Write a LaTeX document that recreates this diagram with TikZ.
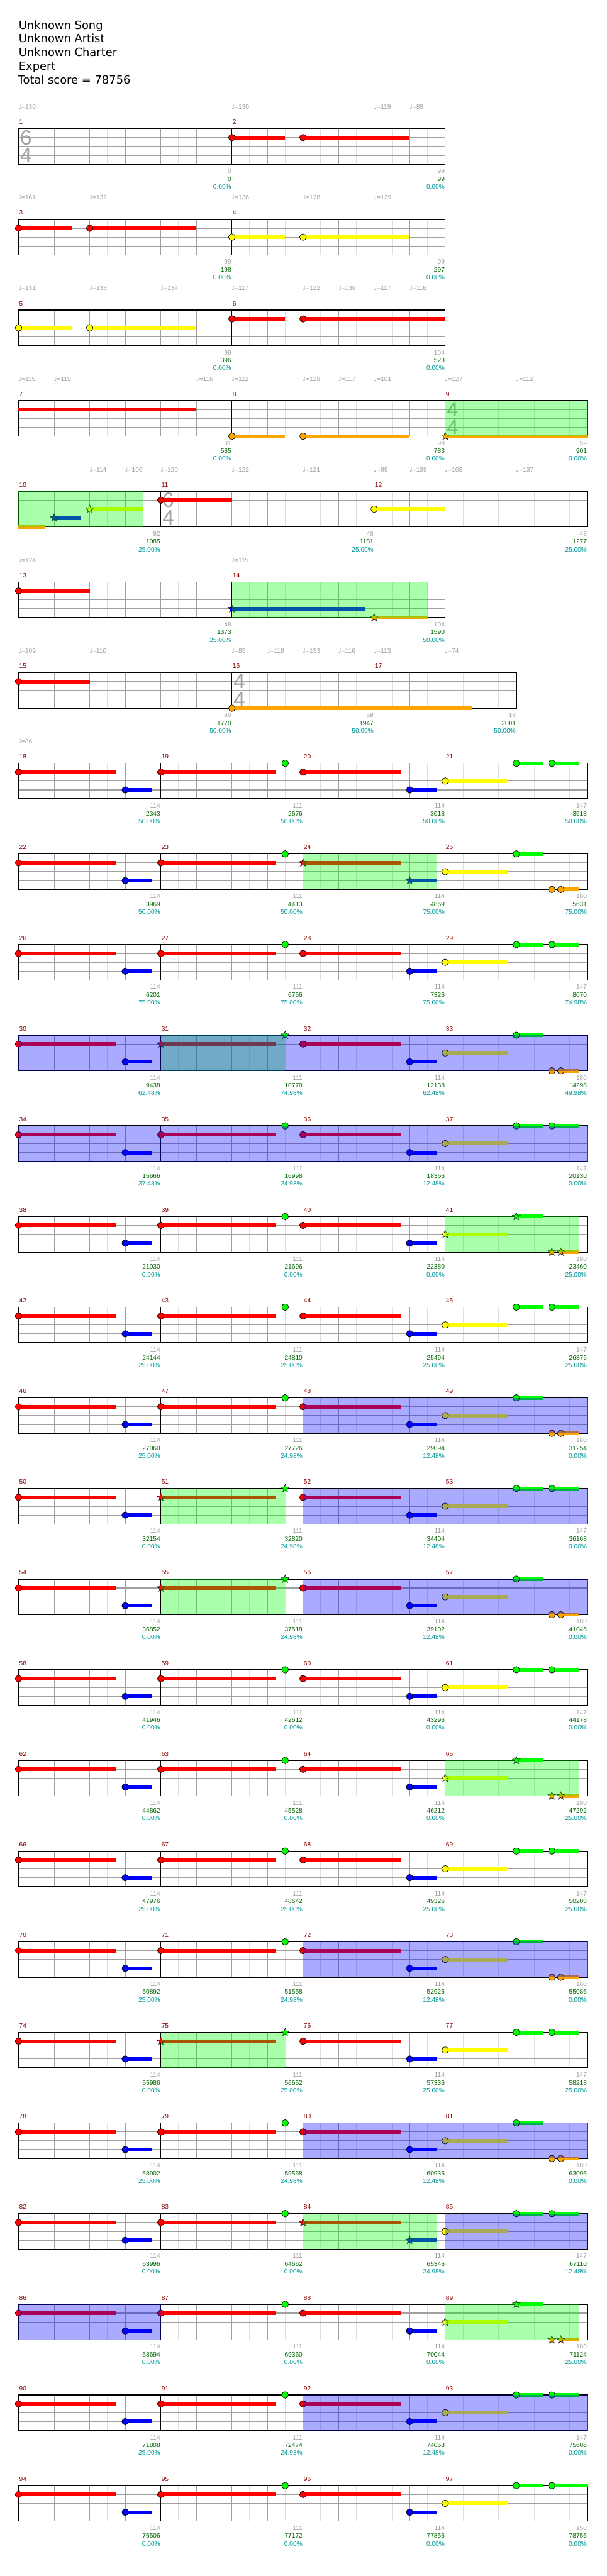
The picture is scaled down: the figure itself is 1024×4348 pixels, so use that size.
\documentclass[tikz,border=0pt]{standalone}
\usepackage{fontspec}
\setmainfont{DejaVu Sans}
\newfontfamily\labfont{Liberation Sans}
\newfontfamily\notefont{DejaVu Sans}
\usetikzlibrary{shapes.geometric}

\definecolor{notered}{RGB}{255,0,0}
\definecolor{noteyellow}{RGB}{255,255,0}
\definecolor{noteblue}{RGB}{0,0,255}
\definecolor{notegreen}{RGB}{0,255,0}
\definecolor{noteorange}{RGB}{255,165,0}
\definecolor{halfgrey}{RGB}{222,222,222}
\definecolor{linegrey}{RGB}{160,160,160}
\definecolor{labgrey}{RGB}{160,160,160}
\definecolor{labgreen}{RGB}{0,100,0}
\definecolor{labteal}{RGB}{0,150,150}
\definecolor{labred}{RGB}{140,0,0}

\newcount\notecount
% staff: number of beats, bar lines inside the row
\newcommand{\staff}[2]{%
  \foreach \h in {0.5,1.5,...,#1} \draw[halfline] (\h,0) -- (\h,60);
  \foreach \b in {1,...,#1} \draw[beatline] (\b,0) -- (\b,60);
  \foreach \l in {15,30,45} \draw[laneline] (0,\l) -- (#1,\l);
  \foreach \b in {#2} \draw[barline] (\b,0) -- (\b,60);
  \draw[frame] (0,0) rectangle (#1,60);}
\newcommand{\tsig}[3]{\node[tsig] at (#1+0.21,15) {#2};\node[tsig] at (#1+0.21,45) {#3};}
\newcommand{\tmp}[2]{\node[tempo] at (#1-0.01,-33) {{\notefont ♩}=#2};}
\newcommand{\mlab}[2]{\node[mlab] (bar#2) at (#1+0.015,-7.3) {#2};}
\newcommand{\scores}[5]{%
  \node[gscore] (pts#5) at (#1-0.008,75.4) {#2};
  \node[tscore] (tot#5) at (#1-0.008,88.7) {#3};
  \node[pscore] (pct#5) at (#1-0.008,101.7) {#4\%};}
% notes: colour, lane y, start, end of sustain
\newcommand{\sus}[4]{\fill[#1] (#3,#2-3.2) rectangle (#4,#2+3.2);}
\newcommand{\hd}[4]{\ifdim#4pt>#3pt \sus{#1}{#2}{#3}{#4}\fi
  \global\advance\notecount by 1
  \node[notehead,fill=#1] (note\the\notecount) at (#3,#2) {};}
\newcommand{\st}[4]{\ifdim#4pt>#3pt \sus{#1}{#2}{#3}{#4}\fi
  \global\advance\notecount by 1
  \node[starhead,fill=#1] (note\the\notecount) at (#3,#2) {};}
\newcommand{\nt}[4]{\pgfmathtruncatemacro\isstar{and(#3>=\ga,#3<=\gb)}%
  \ifnum\isstar=1 \st{#1}{#2}{#3}{#4}\else\hd{#1}{#2}{#3}{#4}\fi}
\newcommand{\spz}[2]{\fill[spfill] (#1,0) rectangle (#2,60);}
\newcommand{\solo}[2]{\fill[solofill] (#1,0) rectangle (#2,60);}

\begin{document}
\begin{tikzpicture}[x=0.5pt,y=-0.5pt,
  halfline/.style={draw=halfgrey,line width=0.5pt},
  beatline/.style={draw=linegrey,line width=0.5pt},
  laneline/.style={draw=linegrey,line width=0.6pt},
  barline/.style={draw=black,line width=0.5pt},
  frame/.style={draw=black,line width=0.75pt},
  soloend/.style={draw=notered,line width=0.6pt},
  notehead/.style={circle,draw=black,line width=0.35pt,inner sep=0,minimum size=5.6pt},
  starhead/.style={star,star points=5,star point ratio=2.3,draw=black,line width=0.3pt,inner sep=0,minimum size=7pt},
  spfill/.style={fill=notegreen,fill opacity=0.333},
  solofill/.style={fill=noteblue,fill opacity=0.333},
  tsig/.style={text=labgrey,font=\labfont\fontsize{17.5pt}{17.5pt}\selectfont,inner sep=0},
  tempo/.style={anchor=base west,inner sep=0,text=labgrey,font=\labfont\fontsize{5.4pt}{6pt}\selectfont},
  mlab/.style={anchor=base west,inner sep=0,text=labred,font=\labfont\fontsize{5.4pt}{6pt}\selectfont},
  gscore/.style={anchor=base east,inner sep=0,text=labgrey,font=\labfont\fontsize{5.4pt}{6pt}\selectfont},
  tscore/.style={gscore,text=labgreen},
  pscore/.style={gscore,text=labteal},
  title/.style={anchor=base west,inner sep=0,font=\fontsize{9.5pt}{11pt}\selectfont}]

\fill[white] (0,0) rectangle (1024,4348);
\useasboundingbox (0,0) rectangle (1024,4348);

\node[title] (song) at (31.3,49) {Unknown Song};
\node[title] (artist) at (31.3,72) {Unknown Artist};
\node[title] (charter) at (31.3,95) {Unknown Charter};
\node[title] (level) at (31.3,118.3) {Expert};
\node[title] (total) at (30,141.7) {Total score = 78756};

% row 0
\begin{scope}[shift={(31.3,217.3)},x=30pt]
  \staff{12}{6}
  \tsig{0}{6}{4}
  \hd{notered}{15}{6}{7.5} \hd{notered}{15}{8}{11}
  \tmp{0}{130} \tmp{6}{130} \tmp{10}{119} \tmp{11}{89}
  \mlab{0}{1} \mlab{6}{2}
  \scores{6}{0}{0}{0.00}{1} \scores{12}{99}{99}{0.00}{2}
\end{scope}

% row 1
\begin{scope}[shift={(31.3,370.3)},x=30pt]
  \staff{12}{6}
  \hd{notered}{15}{0}{1.5} \hd{notered}{15}{2}{5}
  \hd{noteyellow}{30}{6}{7.5} \hd{noteyellow}{30}{8}{11}
  \tmp{0}{161} \tmp{2}{132} \tmp{6}{136} \tmp{8}{128} \tmp{10}{129}
  \mlab{0}{3} \mlab{6}{4}
  \scores{6}{99}{198}{0.00}{3} \scores{12}{99}{297}{0.00}{4}
\end{scope}

% row 2
\begin{scope}[shift={(31.3,523.3)},x=30pt]
  \staff{12}{6}
  \hd{noteyellow}{30}{0}{1.5} \hd{noteyellow}{30}{2}{5}
  \hd{notered}{15}{6}{7.5} \hd{notered}{15}{8}{12}
  \tmp{0}{131} \tmp{2}{138} \tmp{4}{134} \tmp{6}{117}
  \tmp{8}{122} \tmp{9}{130} \tmp{10}{117} \tmp{11}{116}
  \mlab{0}{5} \mlab{6}{6}
  \scores{6}{99}{396}{0.00}{5} \scores{12}{104}{523}{0.00}{6}
\end{scope}

% row 3
\begin{scope}[shift={(31.3,676.3)},x=30pt]
  \staff{16}{6,12}
  \tsig{12}{4}{4}
  \sus{notered}{15}{0}{5}
  \hd{noteorange}{60}{6}{7.5} \hd{noteorange}{60}{8}{11}
  \st{noteorange}{60}{12}{16}
  \spz{12}{16}
  \tmp{0}{115} \tmp{1}{119} \tmp{5}{116} \tmp{6}{112} \tmp{8}{128}
  \tmp{9}{117} \tmp{10}{101} \tmp{12}{127} \tmp{14}{112}
  \mlab{0}{7} \mlab{6}{8} \mlab{12}{9}
  \scores{6}{31}{585}{0.00}{7} \scores{12}{99}{783}{0.00}{8} \scores{16}{59}{901}{0.00}{9}
\end{scope}

% row 4
\begin{scope}[shift={(31.3,829.3)},x=30pt]
  \staff{16}{4,10}
  \tsig{4}{6}{4}
  \sus{noteorange}{60}{0}{0.75}
  \st{noteblue}{45}{1}{1.75} \st{noteyellow}{30}{2}{3.5}
  \hd{notered}{15}{4}{6} \hd{noteyellow}{30}{10}{12}
  \spz{0}{3.5}
  \tmp{2}{114} \tmp{3}{106} \tmp{4}{120} \tmp{6}{122} \tmp{8}{121}
  \tmp{10}{99} \tmp{11}{139} \tmp{12}{103} \tmp{14}{137}
  \mlab{0}{10} \mlab{4}{11} \mlab{10}{12}
  \scores{4}{92}{1085}{25.00}{10} \scores{10}{48}{1181}{25.00}{11} \scores{16}{48}{1277}{25.00}{12}
\end{scope}

% row 5
\begin{scope}[shift={(31.3,982.3)},x=30pt]
  \staff{12}{6}
  \hd{notered}{15}{0}{2}
  \st{noteblue}{45}{6}{9.75} \st{noteorange}{60}{10}{11.5}
  \spz{6}{11.5}
  \tmp{0}{124} \tmp{6}{115}
  \mlab{0}{13} \mlab{6}{14}
  \scores{6}{48}{1373}{25.00}{13} \scores{12}{104}{1590}{50.00}{14}
\end{scope}

% row 6
\begin{scope}[shift={(31.3,1135.3)},x=30pt]
  \staff{14}{6,10}
  \tsig{6}{4}{4}
  \hd{notered}{15}{0}{2} \hd{noteorange}{60}{6}{12.75}
  \tmp{0}{109} \tmp{2}{110} \tmp{6}{85} \tmp{7}{119} \tmp{8}{153}
  \tmp{9}{116} \tmp{10}{113} \tmp{12}{74}
  \mlab{0}{15} \mlab{6}{16} \mlab{10}{17}
  \scores{6}{60}{1770}{50.00}{15} \scores{10}{59}{1947}{50.00}{16} \scores{14}{18}{2001}{50.00}{17}
\end{scope}

% rows 7 to 26, four bars of 4/4 each
\foreach \k/\var/\ga/\gb/\sa/\sb/\se/\pa/\pb/\pc/\pd/\qa/\qb/\qc/\qd in {
  7/1/-1/-1/-1/-1/0/2343/2676/3018/3513/50.00/50.00/50.00/50.00,
  8/2/8/11.75/-1/-1/0/3969/4413/4869/5631/50.00/50.00/75.00/75.00,
  9/1/-1/-1/-1/-1/0/6201/6756/7326/8070/75.00/75.00/75.00/74.98,
  10/2/4/7.5/0/16/0/9438/10770/12138/14298/62.48/74.98/62.48/49.98,
  11/1/-1/-1/0/16/1/15666/16998/18366/20130/37.48/24.98/12.48/0.00,
  12/2/12/15.75/-1/-1/0/21030/21696/22380/23460/0.00/0.00/0.00/25.00,
  13/1/-1/-1/-1/-1/0/24144/24810/25494/26376/25.00/25.00/25.00/25.00,
  14/2/-1/-1/8/16/1/27060/27726/29094/31254/25.00/24.98/12.48/0.00,
  15/1/4/7.5/8/16/1/32154/32820/34404/36168/0.00/24.98/12.48/0.00,
  16/2/4/7.5/8/16/1/36852/37518/39102/41046/0.00/24.98/12.48/0.00,
  17/1/-1/-1/-1/-1/0/41946/42612/43296/44178/0.00/0.00/0.00/0.00,
  18/2/12/15.75/-1/-1/0/44862/45528/46212/47292/0.00/0.00/0.00/25.00,
  19/1/-1/-1/-1/-1/0/47976/48642/49326/50208/25.00/25.00/25.00/25.00,
  20/2/-1/-1/8/16/1/50892/51558/52926/55086/25.00/24.98/12.48/0.00,
  21/1/4/7.5/-1/-1/0/55986/56652/57336/58218/0.00/25.00/25.00/25.00,
  22/2/-1/-1/8/16/1/58902/59568/60936/63096/25.00/24.98/12.48/0.00,
  23/1/8/11.75/12/16/0/63996/64662/65346/67110/0.00/0.00/24.98/12.48,
  24/2/12/15.75/0/4/0/68694/69360/70044/71124/0.00/0.00/0.00/25.00,
  25/1/-1/-1/8/16/1/71808/72474/74058/75606/25.00/24.98/12.48/0.00,
  26/3/-1/-1/-1/-1/0/76506/77172/77856/78756/0.00/0.00/0.00/0.00} {
  \pgfmathsetmacro\yy{217.3+153*\k}
  \pgfmathtruncatemacro\ma{18+4*(\k-7)}
  \pgfmathtruncatemacro\mb{\ma+1}
  \pgfmathtruncatemacro\mc{\ma+2}
  \pgfmathtruncatemacro\md{\ma+3}
  \begin{scope}[shift={(31.3,\yy)},x=30pt]
    \staff{16}{4,8,12}
    \nt{notered}{15}{0}{2.75}
    \nt{noteblue}{45}{3}{3.75}
    \nt{notered}{15}{4}{7.25}
    \nt{notegreen}{0}{7.5}{7.5}
    \nt{notered}{15}{8}{10.75}
    \nt{noteblue}{45}{11}{11.75}
    \nt{noteyellow}{30}{12}{13.75}
    \nt{notegreen}{0}{14}{14.75}
    \ifcase\var\or
      \nt{notegreen}{0}{15}{15.75}
    \or
      \nt{noteorange}{60}{15}{15} \nt{noteorange}{60}{15.25}{15.75}
    \or
      \nt{notegreen}{0}{15}{16}
    \fi
    \ifnum\se=1 \draw[soloend] (16,0) -- (16,60);\fi
    \ifdim\gb pt>0pt \spz{\ga}{\gb}\fi
    \ifdim\sb pt>0pt \solo{\sa}{\sb}\fi
    \ifnum\k=7 \tmp{0}{86}\fi
    \mlab{0}{\ma} \mlab{4}{\mb} \mlab{8}{\mc} \mlab{12}{\md}
    \scores{4}{114}{\pa}{\qa}{\ma}
    \scores{8}{111}{\pb}{\qb}{\mb}
    \scores{12}{114}{\pc}{\qc}{\mc}
    \scores{16}{\ifcase\var\or 147\or 180\or 150\fi}{\pd}{\qd}{\md}
  \end{scope}
}
\end{tikzpicture}
\end{document}
